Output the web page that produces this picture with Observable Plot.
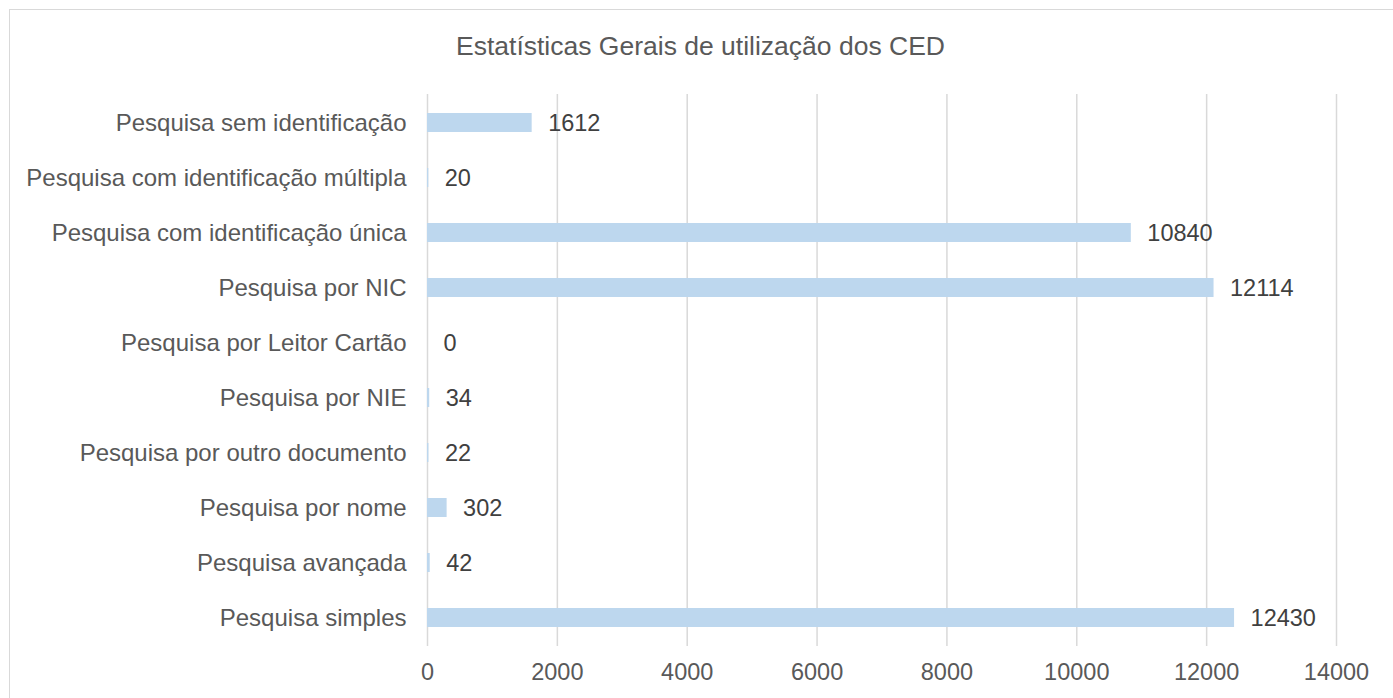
<!DOCTYPE html>
<html>
<head>
<meta charset="utf-8">
<script src="https://cdn.jsdelivr.net/npm/d3@7"></script>
<script src="https://cdn.jsdelivr.net/npm/@observablehq/plot@0.6"></script>
<style>
  html, body { margin: 0; padding: 0; background: #fff; overflow: hidden; }
  body { width: 1393px; height: 698px; position: relative; font-family: "Liberation Sans", Arial, sans-serif; }
  #frame { position: absolute; left: 9px; top: 9px; width: 1500px; height: 800px; border: 1.5px solid #d9d9d9; pointer-events: none; }
  #title { position: relative; height: 75px; width: 1393px; text-align: center; font-size: 26.5px; color: #595959; line-height: 26px; }
  #title span { position: absolute; left: 8px; right: 0; top: 33px; }
  #chart svg { display: block; }
</style>
</head>
<body>
<div id="frame"></div>
<div id="title"><span>Estatísticas Gerais de utilização dos CED</span></div>
<div id="chart"></div>
<script>
const categories = [
  "Pesquisa sem identificação",
  "Pesquisa com identificação múltipla",
  "Pesquisa com identificação única",
  "Pesquisa por NIC",
  "Pesquisa por Leitor Cartão",
  "Pesquisa por NIE",
  "Pesquisa por outro documento",
  "Pesquisa por nome",
  "Pesquisa avançada",
  "Pesquisa simples"
];
const values = [1612, 20, 10840, 12114, 0, 34, 22, 302, 42, 12430];
const xTicks = [0, 2000, 4000, 6000, 8000, 10000, 12000, 14000];

const data = categories.map((name, i) => ({name, value: values[i]}));

const chart = Plot.plot({
  width: 1393,
  height: 623,
  marginTop: 19,
  marginBottom: 52,
  marginLeft: 427,
  marginRight: 57,
  style: {fontFamily: "'Liberation Sans', Arial, sans-serif", fontSize: "23px", color: "#595959", background: "transparent"},
  x: {domain: [0, 14000]},
  y: {domain: categories, paddingInner: 0.655, paddingOuter: 0.33},
  marks: [
    Plot.gridX(xTicks, {stroke: "#d9d9d9", strokeOpacity: 1, strokeWidth: 1.5}),
    Plot.barX(data, {x: "value", y: "name", fill: "#bdd7ee"}),
    Plot.text(data, {x: "value", y: "name", text: d => String(d.value), textAnchor: "start", dx: 16, fill: "#404040", fontSize: 23.5}),
    Plot.axisX({ticks: xTicks, tickSize: 0, tickPadding: 17, fontSize: 23.5, fill: "#595959", label: null, tickFormat: d => String(d)}),
    Plot.axisY({tickSize: 0, tickPadding: 21, fontSize: 24, fill: "#595959", label: null})
  ]
});
document.getElementById("chart").appendChild(chart);
</script>
</body>
</html>
